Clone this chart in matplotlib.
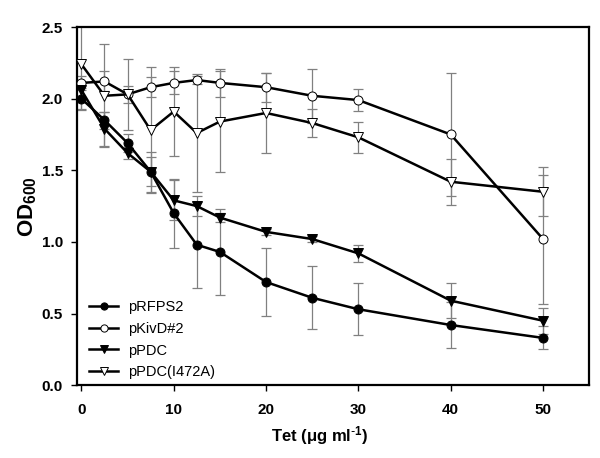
import numpy as np
import matplotlib.pyplot as plt

plt.rcParams['font.family'] = ['Liberation Sans', 'DejaVu Sans']
plt.rcParams['mathtext.default'] = 'regular'

# Tet concentration (ug/ml)
tet = [0, 2.5, 5, 7.5, 10, 12.5, 15, 20, 25, 30, 40, 50]

rfps2 = [2.00, 1.85, 1.69, 1.49, 1.20, 0.98, 0.93, 0.72, 0.61, 0.53, 0.42, 0.33]
rfps2_err = [0.075, 0.06, 0.06, 0.14, 0.24, 0.30, 0.30, 0.24, 0.22, 0.18, 0.16, 0.08]

kivd = [2.11, 2.12, 2.03, 2.08, 2.11, 2.13, 2.11, 2.08, 2.02, 1.99, 1.75, 1.02]
kivd_err = [0.05, 0.07, 0.06, 0.07, 0.08, 0.03, 0.10, 0.10, 0.19, 0.075, 0.43, 0.45]

pdc = [2.06, 1.79, 1.62, 1.49, 1.29, 1.25, 1.17, 1.07, 1.02, 0.92, 0.59, 0.45]
pdc_err = [0.05, 0.12, 0.04, 0.10, 0.14, 0.07, 0.03, 0.02, 0.02, 0.06, 0.12, 0.09]

pdc_mut = [2.24, 2.02, 2.03, 1.78, 1.91, 1.76, 1.84, 1.90, 1.83, 1.73, 1.42, 1.35]
pdc_mut_err = [0.32, 0.36, 0.25, 0.44, 0.31, 0.41, 0.35, 0.28, 0.10, 0.11, 0.16, 0.17]

labels = ['pRFPS2', 'pKivD#2', 'pPDC', 'pPDC(I472A)']

fig = plt.figure(figsize=(6.0, 4.58), dpi=100)
ax = fig.add_axes([0.128, 0.159, 0.854, 0.782])

series = [(rfps2, rfps2_err, 'o', 'black'),
          (kivd, kivd_err, 'o', 'white'),
          (pdc, pdc_err, 'v', 'black'),
          (pdc_mut, pdc_mut_err, 'v', 'white')]

# error bars first, grey and thin, behind the lines
for y, e, m, fc in series:
    ax.errorbar(tet, y, yerr=e, fmt='none', ecolor='0.5', elinewidth=0.9,
                capsize=3.5, capthick=0.9, zorder=1)

for (y, e, m, fc), lab in zip(series, labels):
    ms = 7 if m == 'v' else 6.5
    ax.plot(tet, y, marker=m, color='black', markerfacecolor=fc,
            markeredgecolor='black', markeredgewidth=0.7, markersize=ms,
            linewidth=1.8, label=lab, zorder=3)

ax.set_xlim(-0.5, 55)
ax.set_ylim(0, 2.5)
ax.set_xticks([0, 10, 20, 30, 40, 50])
ax.set_yticks([0.0, 0.5, 1.0, 1.5, 2.0, 2.5])
ax.set_yticklabels(['0.0', '0.5', '1.0', '1.5', '2.0', '2.5'])
ax.tick_params(direction='out', length=4, width=1, labelsize=11, top=False, right=False)
ax.tick_params(axis='x', pad=9)
ax.tick_params(axis='y', pad=6)
for t in ax.get_xticklabels() + ax.get_yticklabels():
    t.set_fontweight('bold')
for s in ax.spines.values():
    s.set_linewidth(1.6)

ax.set_xlabel('Tet (\u03bcg ml$^{\\text{-}1}$)', fontsize=12, fontweight='bold',
              labelpad=5, x=0.475)
ax.set_ylabel('OD$_{600}$', fontsize=16, fontweight='bold', labelpad=2)

ax.legend(loc='lower left', frameon=False, fontsize=10.5, handlelength=2.0,
          handletextpad=0.7, labelspacing=0.53, borderaxespad=0.15,
          markerscale=0.8, bbox_to_anchor=(0.008, -0.006))

fig.savefig('out.png', dpi=100)
